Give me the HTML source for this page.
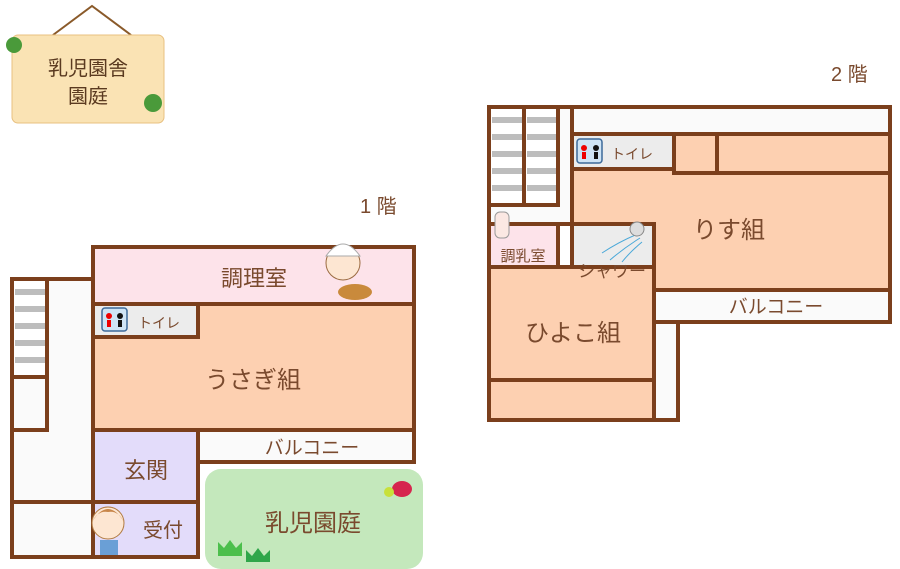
<!DOCTYPE html>
<html><head><meta charset="utf-8">
<style>
body{margin:0;background:#fff;}
svg{display:block}
text{font-family:"Liberation Sans","Noto Sans CJK JP",sans-serif;fill:#7a4a2e;}
</style></head><body>
<svg width="900" height="569" viewBox="0 0 900 569" xmlns="http://www.w3.org/2000/svg">
<g stroke="#7b3f1c" stroke-width="4">
<rect x="12" y="279" width="81" height="278" fill="#fafafa"/>
<rect x="12" y="279" width="35" height="98" fill="#fff"/>
<rect x="12" y="377" width="35" height="53" fill="#fafafa"/>
<rect x="12" y="502" width="81" height="55" fill="#fafafa"/>
<rect x="93" y="247" width="321" height="57" fill="#fde3ea"/>
<rect x="93" y="304" width="321" height="126" fill="#fdd0b1"/>
<rect x="93" y="304" width="105" height="33" fill="#ececec"/>
<rect x="93" y="430" width="105" height="72" fill="#e3dcfa"/>
<rect x="93" y="502" width="105" height="55" fill="#e3dcfa"/>
<rect x="198" y="430" width="216" height="32" fill="#fafafa"/>
<rect x="489" y="107" width="83" height="117" fill="#fafafa"/>
<rect x="489" y="107" width="35" height="98" fill="#fff"/>
<rect x="524" y="107" width="34" height="98" fill="#fff"/>
<rect x="572" y="107" width="318" height="27" fill="#fafafa"/>
<rect x="572" y="169" width="318" height="121" fill="#fdd0b1"/>
<rect x="572" y="134" width="102" height="35" fill="#ececec"/>
<rect x="674" y="134" width="43" height="39" fill="#fdd0b1"/>
<rect x="717" y="134" width="173" height="39" fill="#fdd0b1"/>
<rect x="572" y="224" width="82" height="66" fill="#ececec"/>
<rect x="489" y="224" width="69" height="43" fill="#fde3ea"/>
<rect x="489" y="267" width="165" height="113" fill="#fdd0b1"/>
<rect x="489" y="380" width="165" height="40" fill="#fdd0b1"/>
<rect x="654" y="290" width="24" height="130" fill="#fafafa"/>
<rect x="654" y="290" width="236" height="32" fill="#fafafa"/>
</g>
<g fill="#bdbdbd">
<rect x="15" y="289" width="30" height="6"/><rect x="15" y="306" width="30" height="6"/><rect x="15" y="323" width="30" height="6"/><rect x="15" y="340" width="30" height="6"/><rect x="15" y="357" width="30" height="6"/>
<rect x="492" y="117" width="30" height="6"/><rect x="492" y="134" width="30" height="6"/><rect x="492" y="151" width="30" height="6"/><rect x="492" y="168" width="30" height="6"/><rect x="492" y="185" width="30" height="6"/>
<rect x="527" y="117" width="29" height="6"/><rect x="527" y="134" width="29" height="6"/><rect x="527" y="151" width="29" height="6"/><rect x="527" y="168" width="29" height="6"/><rect x="527" y="185" width="29" height="6"/>
</g>
<rect x="205" y="469" width="218" height="100" rx="16" fill="#c4e8bc"/>
<path d="M218 556 l0-14 6 6 6-8 6 8 6-6 0 14z" fill="#4cbf4c"/>
<path d="M246 562 l0-12 6 6 6-8 6 8 6-6 0 12z" fill="#2fa64a"/>
<ellipse cx="402" cy="489" rx="10" ry="8" fill="#d6254e"/><circle cx="389" cy="492" r="5" fill="#c8e03a"/>
<rect x="102" y="308" width="25" height="23" rx="3" fill="#cfe4f5" stroke="#3d6a9a" stroke-width="1.5"/>
<circle cx="109" cy="316" r="3" fill="#e00"/><rect x="107" y="320" width="4" height="7" fill="#e00"/><circle cx="120" cy="316" r="3" fill="#111"/><rect x="118" y="320" width="4" height="7" fill="#111"/>
<rect x="577" y="139" width="25" height="24" rx="3" fill="#cfe4f5" stroke="#3d6a9a" stroke-width="1.5"/>
<circle cx="584" cy="148" r="3" fill="#e00"/><rect x="582" y="152" width="4" height="7" fill="#e00"/><circle cx="596" cy="148" r="3" fill="#111"/><rect x="594" y="152" width="4" height="7" fill="#111"/>
<circle cx="343" cy="263" r="17" fill="#fde6d2" stroke="#9a6a40"/><path d="M326 256 q17-24 34 0z" fill="#fff" stroke="#aaa"/>
<ellipse cx="355" cy="292" rx="17" ry="8" fill="#c98a3c"/>
<circle cx="108" cy="523" r="16" fill="#fde6d2" stroke="#b07a40"/><path d="M92 522 q16-26 32 0 q-6-12-16-10 q-10-2-16 10z" fill="#c8864a"/>
<rect x="100" y="540" width="18" height="15" fill="#6a9fd6"/>
<path d="M640 233 q-20 8 -38 20 M640 238 q-16 10 -30 22 M642 242 q-12 10 -20 20" stroke="#4aa8d8" fill="none"/>
<circle cx="637" cy="229" r="7" fill="#ddd" stroke="#888"/>
<rect x="495" y="212" width="14" height="26" rx="5" fill="#fbe8e3" stroke="#999"/>
<path d="M53 35 L92 6 L131 35" stroke="#8a5a2a" fill="none" stroke-width="2"/>
<rect x="12" y="35" width="152" height="88" rx="6" fill="#fae3b4" stroke="#e8c080"/>
<text x="88" y="75" font-size="20" text-anchor="middle" style="fill:#5a3a20">乳児園舎</text>
<text x="88" y="103" font-size="20" text-anchor="middle" style="fill:#5a3a20">園庭</text>
<circle cx="14" cy="45" r="8" fill="#4a9a3a"/><circle cx="153" cy="103" r="9" fill="#4a9a3a"/>
<text x="360" y="213" font-size="20">1 階</text>
<text x="831" y="81" font-size="20">2 階</text>
<text x="254" y="286" font-size="22" text-anchor="middle">調理室</text>
<text x="159" y="328" font-size="14" text-anchor="middle">トイレ</text>
<text x="253" y="388" font-size="24" text-anchor="middle">うさぎ組</text>
<text x="146" y="478" font-size="22" text-anchor="middle">玄関</text>
<text x="163" y="537" font-size="20" text-anchor="middle">受付</text>
<text x="312" y="454" font-size="19" text-anchor="middle">バルコニー</text>
<text x="313" y="531" font-size="24" text-anchor="middle">乳児園庭</text>
<text x="632" y="159" font-size="14" text-anchor="middle">トイレ</text>
<text x="729" y="238" font-size="24" text-anchor="middle">りす組</text>
<text x="612" y="277" font-size="17" text-anchor="middle">シャワー</text>
<text x="523" y="261" font-size="15" text-anchor="middle">調乳室</text>
<text x="573" y="341" font-size="24" text-anchor="middle">ひよこ組</text>
<text x="776" y="313" font-size="19" text-anchor="middle">バルコニー</text>
</svg>
</body></html>
